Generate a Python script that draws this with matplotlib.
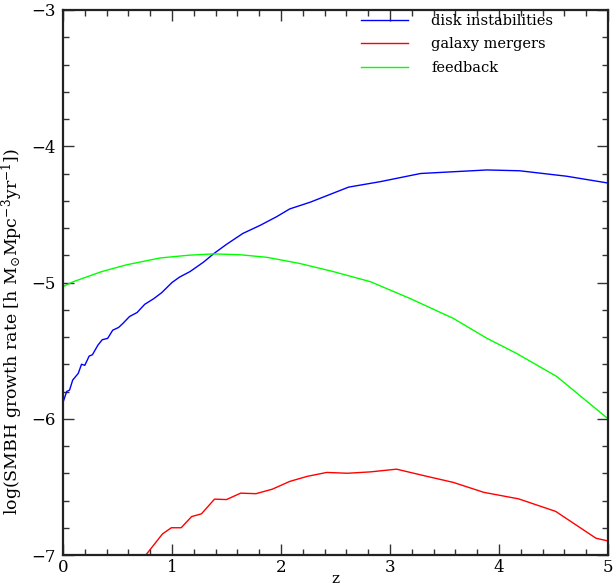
import matplotlib
matplotlib.use("Agg")
import matplotlib.pyplot as plt
from matplotlib.ticker import MultipleLocator

plt.rcParams['font.family'] = ['DejaVu Serif']
plt.rcParams['mathtext.fontset'] = 'dejavuserif'

# Data
z_disk = [0, 0.034, 0.06, 0.089, 0.14, 0.17, 0.20, 0.24, 0.27, 0.32, 0.36, 0.41,
          0.456, 0.51, 0.55, 0.61, 0.68, 0.75, 0.83, 0.905, 1.0, 1.07, 1.165,
          1.29, 1.38, 1.50, 1.65, 1.81, 1.96, 2.08, 2.27, 2.62, 2.91, 3.28,
          3.89, 4.19, 4.62, 5.0]
y_disk = [-5.88, -5.80, -5.79, -5.716, -5.667, -5.60, -5.608, -5.54, -5.53,
          -5.46, -5.42, -5.41, -5.35, -5.33, -5.30, -5.25, -5.22, -5.16, -5.12,
          -5.075, -5.00, -4.96, -4.92, -4.85, -4.79, -4.72, -4.64, -4.58,
          -4.517, -4.46, -4.41, -4.30, -4.26, -4.20, -4.174, -4.18, -4.22, -4.27]

z_merg = [0.76, 0.913, 0.994, 1.084, 1.18, 1.27, 1.39, 1.50, 1.63, 1.77, 1.92,
          2.08, 2.24, 2.42, 2.61, 2.82, 3.06, 3.34, 3.58, 3.86, 4.18, 4.52,
          4.89, 5.0]
y_merg = [-7.0, -6.845, -6.80, -6.80, -6.718, -6.698, -6.59, -6.593, -6.546,
          -6.55, -6.517, -6.46, -6.423, -6.394, -6.40, -6.39, -6.37, -6.423,
          -6.467, -6.54, -6.588, -6.68, -6.877, -6.897]

z_feed = [0, 0.095, 0.355, 0.584, 0.89, 1.15, 1.38, 1.62, 1.87, 2.17, 2.48,
          2.82, 3.18, 3.58, 3.89, 4.16, 4.53, 5.0]
y_feed = [-5.03, -4.994, -4.92, -4.87, -4.82, -4.80, -4.79, -4.796, -4.815,
          -4.86, -4.92, -4.994, -5.116, -5.263, -5.41, -5.52, -5.69, -6.0]

labels = ["disk instabilities", "galaxy mergers", "feedback"]
xticks = [0, 1, 2, 3, 4, 5]
yticks = [-7, -6, -5, -4, -3]

fig = plt.figure(figsize=(6.13, 5.86), dpi=100)
ax = fig.add_axes([63/613, 1-555/586, (608-63)/613, (555-10)/586])

ax.plot(z_disk, y_disk, color=(0, 0, 1), lw=1.0, label=labels[0])
ax.plot(z_merg, y_merg, color=(1, 0, 0), lw=1.0, label=labels[1])
ax.plot(z_feed, y_feed, color=(0, 1, 0), lw=1.0, label=labels[2])

ax.set_xlim(0, 5)
ax.set_ylim(-7, -3)
ax.set_xticks(xticks)
ax.set_yticks(yticks)
ax.set_xticklabels([str(t) for t in xticks])
ax.set_yticklabels(["\u2212%d" % (-t) for t in yticks])
ax.xaxis.set_minor_locator(MultipleLocator(0.2))
ax.yaxis.set_minor_locator(MultipleLocator(0.2))
ax.tick_params(which='both', direction='in', top=True, right=True,
               color='#333333', width=1.0)
ax.tick_params(which='major', length=8, labelsize=12)
ax.tick_params(axis='x', which='major', pad=3)
ax.tick_params(axis='y', which='major', pad=5)
ax.tick_params(which='minor', length=4.5)
for s in ax.spines.values():
    s.set_linewidth(1.6)
    s.set_color('#222222')

ax.set_xlabel("z", fontsize=11, labelpad=-3)
ax.set_ylabel(r"log(SMBH growth rate [h M$_{\odot}$Mpc$^{-3}$yr$^{-1}$])",
              fontsize=12.5)
ax.yaxis.set_label_coords(-0.07, 0.41)

leg = ax.legend(loc='upper left', bbox_to_anchor=(361/613, 1-14/586),
                bbox_transform=fig.transFigure, frameon=False, fontsize=10.5,
                handlelength=3.2, handletextpad=1.6, labelspacing=0.65,
                borderpad=0, borderaxespad=0)

fig.savefig("out.png", dpi=100)
